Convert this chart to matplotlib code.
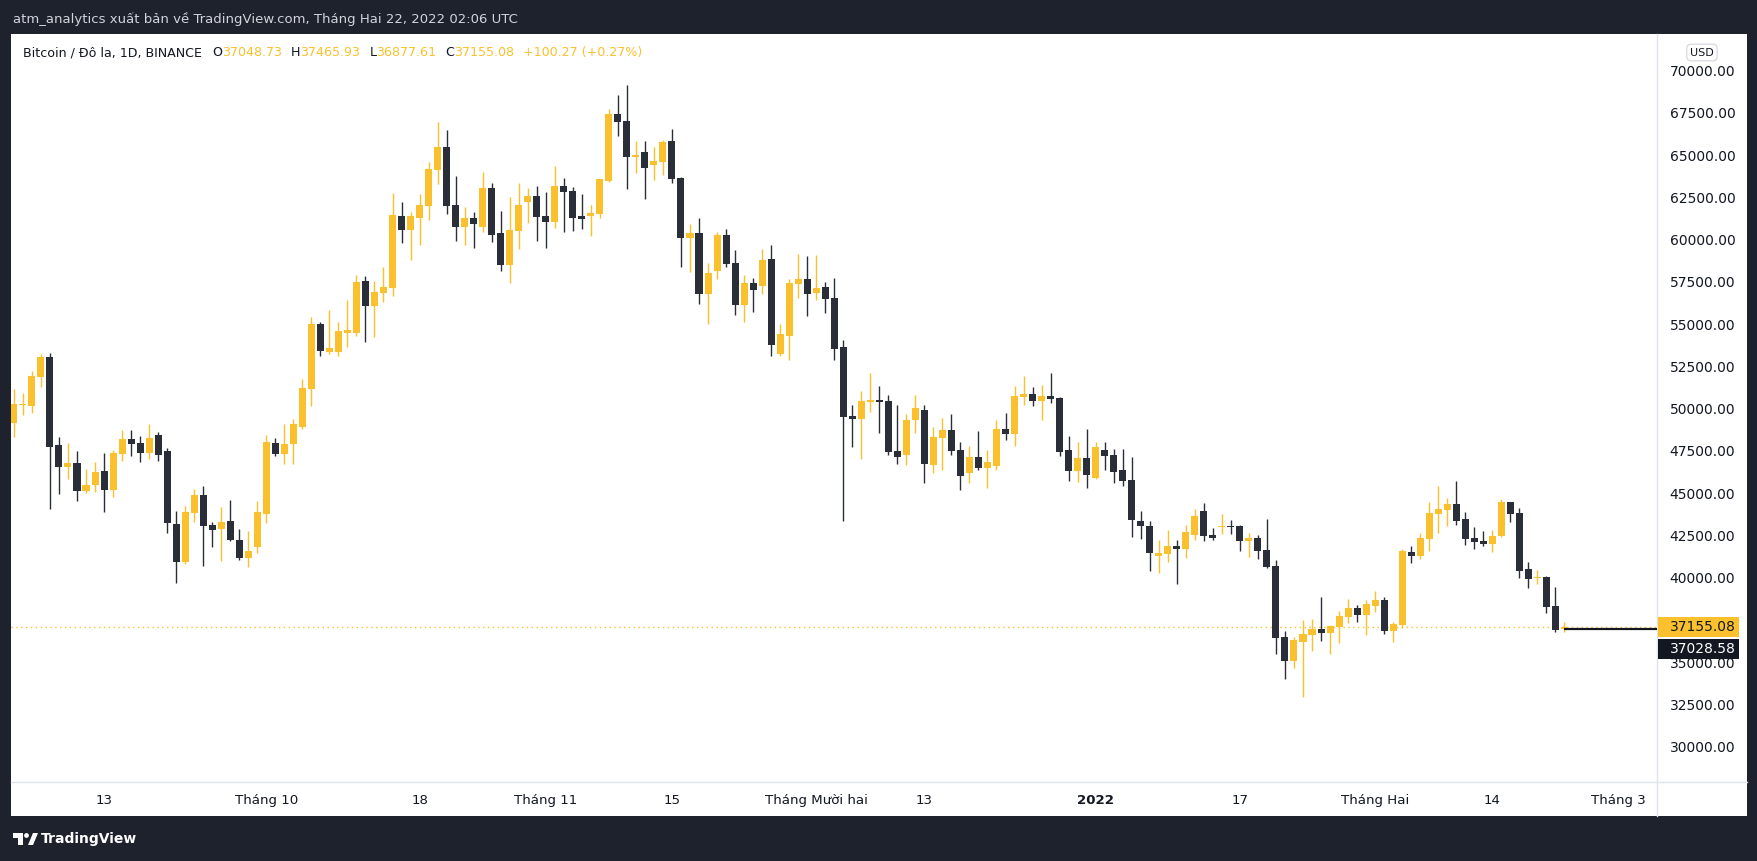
import numpy as np
import pandas as pd
import matplotlib
matplotlib.use("Agg")
import matplotlib.pyplot as plt
from matplotlib.patches import Rectangle, Circle, Polygon

W, H = 1758, 861

# Nến ngày BTC, 03/09/2021 -> 22/02/2022
dates = pd.date_range("2021-09-03", "2022-02-22", freq="D")

opens = [
    # Sep 3-30
    49261, 50330, 50247, 51982, 53146, 47940, 46658, 46875, 45238, 45593, 46401, 45297, 47427, 48294,
    48058, 47486, 48531, 47585, 43266, 41037, 43936, 44982, 43207, 42990, 43443, 42319, 41274, 41925,
    # Oct
    43877, 48058, 47427, 48018, 49024, 51272, 55100, 53450, 53462, 54590, 54586, 57643, 56183, 56952,
    57248, 61488, 60679, 61389, 62099, 64229, 65570, 62139, 60857, 61370, 60857, 63145, 60482, 58609,
    60620, 62316, 62670,
    # Nov
    61487, 61152, 63262, 62966, 61487, 61507, 61625, 63578, 67522, 67107, 65000, 65274, 64524, 64702,
    65924, 63735, 60206, 60482, 56893, 58253, 60363, 58707, 56242, 57524, 57366, 58943, 53343, 54408,
    57484, 57761,
    # Dec
    56952, 57287, 56636, 53737, 49655, 49497, 50503, 50602, 50543, 47585, 47368, 49438, 50010, 46776,
    48373, 48827, 47644, 46303, 47230, 46599, 46717, 48886, 48610, 50799, 50957, 50562, 50838, 50720,
    47644, 46421, 47170,
    # Jan
    46007, 47644, 47348, 46460, 45869, 43443, 43148, 41392, 41511, 41965, 41807, 42635, 44035, 42616,
    43100, 43150, 43148, 42280, 42438, 41728, 40782, 36582, 35181, 36305, 36720, 37055, 36838, 37173,
    37784, 38297, 37902,
    # Feb 1-22
    38435, 38770, 36956, 37311, 41610, 41393, 42399, 43878, 44114, 44450, 43562, 42438, 42261, 42103,
    42576, 44568, 43917, 40604, 40050, 40131, 38415, 37048.73,
]
highs = [
    51233, 51036, 52318, 53323, 53363, 48413, 48058, 47585, 46520, 46934, 47466, 47644, 48827, 48827,
    48472, 49182, 48709, 47762, 44035, 44331, 45336, 45514, 43384, 44272, 44686, 42970, 42852, 44627,
    48531, 48354, 49182, 49478, 51850, 55500, 55200, 55900, 55237, 56519, 57998, 57938, 57643, 58471,
    62849, 62316, 61725, 62790, 64682, 67049, 66576, 63854, 62020, 61725, 64091, 63440, 61784, 62612,
    63440, 63144, 63262,
    62907, 64445, 63735, 63203, 62789, 62138, 63676, 67818, 68646, 69237, 65924, 65924, 65569, 65983,
    66634, 63795, 61014, 61369, 58707, 60541, 60718, 59476, 57997, 57820, 59535, 59772, 55098, 57761,
    59239, 59121,
    59180, 57583, 57820, 54151, 50306, 51134, 52199, 51430, 50898, 50306, 49774, 50898, 50306, 49024,
    49557, 49793, 48137, 47900, 48788, 47663, 49438, 49852, 51430, 52021, 51371, 51489, 52199, 50779,
    48472, 48117, 48886,
    48117, 48117, 47703, 47703, 47230, 44035, 43443, 42319, 42911, 42320, 43207, 44154, 44509, 43030,
    43858, 43503, 43207, 42734, 42616, 43562, 41137, 36937, 36582, 37587, 37646, 38948, 37291, 38120,
    38829, 38474, 38770,
    39303, 38948, 37469, 41787, 41965, 42734, 44568, 45514, 44805, 45810, 43976, 43089, 42852, 42911,
    44745, 44568, 44213, 41018, 40545, 40190, 39539, 37465.93,
]
lows = [
    48433, 49714, 49852, 51391, 44173, 45060, 45948, 44646, 45120, 45179, 43996, 44883, 47013, 47289,
    46954, 47131, 47013, 42753, 39795, 40919, 43404, 40801, 41925, 41097, 42280, 41156, 40742, 41570,
    43345, 47309, 46835, 46835, 48906, 50267, 53200, 53300, 53225, 53758, 54408, 54054, 54349, 56420,
    56775, 59910, 58905, 59792, 61271, 63401, 61626, 60029, 59792, 59614, 60561, 59970, 58254, 57544,
    59555, 61093, 60028,
    59614, 60797, 60561, 60620, 60738, 60324, 61389, 63500, 66240, 63104, 64051, 62513, 63637, 63932,
    63459, 58490, 58194, 56301, 55118, 57780, 58490, 55650, 55236, 55828, 56893, 53225, 53225, 52988,
    56656, 55591,
    56538, 55769, 52988, 43463, 47841, 47131, 49911, 48669, 47368, 46835, 46776, 48669, 45711, 46303,
    46481, 47368, 45297, 45711, 46481, 45415, 46481, 48255, 47900, 50326, 50266, 49438, 50444, 47309,
    45829, 45770, 45415,
    45947, 46480, 45711, 45534, 42516, 42398, 40505, 40387, 41037, 39736, 41275, 42340, 42280, 42340,
    42694, 42694, 41689, 41334, 41216, 40683, 35595, 34116, 34767, 33052, 35773, 36364, 35595, 36246,
    37429, 37488, 36719,
    38080, 36779, 36305, 37133, 40979, 41216, 41689, 42754, 43168, 43227, 42044, 41807, 41985, 41630,
    42517, 43404, 40092, 39500, 39737, 38021, 36897, 36877.61,
]
closes = [
    50365, 50390, 52022, 53146, 47841, 46658, 46875, 45238, 45573, 46342, 45297, 47466, 48294, 48018,
    47486, 48354, 47368, 43305, 41037, 43976, 44982, 43167, 42931, 43384, 42339, 41274, 41668, 43976,
    48117, 47427, 47999, 49182, 51312, 55100, 53500, 53650, 54704, 54740, 57583, 56183, 56992, 57288,
    61547, 60679, 61488, 62139, 64268, 65570, 62099, 60857, 61370, 61034, 63145, 60384, 58609, 60659,
    62138, 62670, 61448,
    61152, 63262, 62927, 61389, 61330, 61665, 63676, 67522, 67068, 65003, 65100, 64347, 64741, 65865,
    63696, 60206, 60482, 56893, 58115, 60363, 58667, 56242, 57524, 57129, 58884, 53876, 54506, 57524,
    57761, 56893,
    57228, 56597, 53639, 49616, 49497, 50543, 50602, 50503, 47545, 47250, 49418, 50129, 46835, 48413,
    48827, 47604, 46125, 47230, 46599, 46934, 48886, 48610, 50838, 50957, 50562, 50838, 50681, 47545,
    46421, 47170, 46184,
    47821, 47308, 46362, 45829, 43522, 43167, 41570, 41550, 41964, 41807, 42793, 43740, 42576, 42458,
    43150, 43110, 42280, 42438, 41689, 40742, 36542, 35181, 36404, 36759, 37055, 36838, 37232, 37824,
    38297, 37902, 38534,
    38770, 36956, 37350, 41669, 41393, 42438, 43917, 44154, 44450, 43464, 42399, 42221, 42103, 42556,
    44568, 43878, 40506, 40032, 40110, 38376, 37015, 37155.08,
]

last_price = 37155.08
line_price = 37028.58
price_ticks = list(range(30000, 70001, 2500))

tick_dates = ["2021-09-13", "2021-10-01", "2021-10-18", "2021-11-01", "2021-11-15", "2021-12-01",
              "2021-12-13", "2022-01-01", "2022-01-17", "2022-02-01", "2022-02-14", "2022-02-28"]
tick_labels = ["13", "Tháng 10", "18", "Tháng 11", "15", "Tháng Mười hai",
               "13", "2022", "17", "Tháng Hai", "14", "Tháng 3"]

# ---------------------------------------------------------------
UP = "#FBC02D"
DOWN = "#2A2E39"
DARK_BG = "#1E222D"
TXT = "#131722"
SEP = "#E0E3EB"

t0 = pd.Timestamp("2021-09-01")
x = np.array((dates - t0).days, dtype=float)
o = np.array(opens, dtype=float)
h = np.array(highs, dtype=float)
l = np.array(lows, dtype=float)
c = np.array(closes, dtype=float)
cols = np.where(c >= o, UP, DOWN)

XLIM = (1.68, 184.27)
YLIM = (28062, 72253)

fig = plt.figure(figsize=(W / 100, H / 100), dpi=100, facecolor=DARK_BG)

# nền pixel (toàn bộ hình)
bg = fig.add_axes([0, 0, 1, 1], zorder=0)
bg.set_xlim(0, W)
bg.set_ylim(H, 0)
bg.axis("off")
bg.add_patch(Rectangle((11, 34), 1736, 782, facecolor="white", edgecolor="none"))
bg.plot([1657.5, 1657.5], [34, 816], color=SEP, lw=1)
bg.plot([11, 1747], [781.5, 781.5], color=SEP, lw=1)

# logo TradingView
bg.add_patch(Polygon([(13, 833), (23, 833), (23, 845), (18.5, 845), (18.5, 837.5), (13, 837.5)],
                     closed=True, facecolor="white", edgecolor="none"))
bg.add_patch(Circle((26.5, 835.5), 2.4, facecolor="white", edgecolor="none"))
bg.add_patch(Polygon([(28, 845), (33, 833), (38, 833), (33, 845)], closed=True,
                     facecolor="white", edgecolor="none"))
bg.text(41, 839, "TradingView", color="white", fontsize=10, fontweight="bold", va="center", ha="left")

# tiêu đề trên cùng
fig.text(13 / W, 1 - 19 / H, "atm_analytics xuất bản về TradingView.com, Tháng Hai 22, 2022 02:06 UTC",
         color="#D1D4DC", fontsize=9.5, va="center", ha="left")

# biểu đồ chính
ax = fig.add_axes([11 / W, 1 - 781 / H, 1646 / W, 747 / H], zorder=1)
ax.set_facecolor("none")
ax.set_xlim(*XLIM)
ax.set_ylim(*YLIM)
ax.set_xticks([])
ax.set_yticks([])
for s in ax.spines.values():
    s.set_visible(False)

ax.axhline(last_price, color=UP, lw=1, ls=(0, (1, 2.5)), zorder=1)
ax.vlines(x, l, h, colors=cols, lw=1, zorder=2)
body_lo = np.minimum(o, c)
body_h = np.maximum(np.abs(c - o), 60)
ax.bar(x, body_h, bottom=body_lo, width=0.78, color=cols, linewidth=0, zorder=3)
ax.plot([x[-1], XLIM[1]], [line_price, line_price], color=TXT, lw=1.6, zorder=4,
        solid_capstyle="butt")

# thang giá bên phải
axp = fig.add_axes([1658 / W, 1 - 781 / H, 89 / W, 747 / H], zorder=2)
axp.set_facecolor("none")
axp.set_xlim(0, 1)
axp.set_ylim(*YLIM)
axp.axis("off")
px = (YLIM[1] - YLIM[0]) / 747.0
box_h = 20 * px
y_lab2 = last_price - 21.3 * px
for p in price_ticks:
    # các nhãn bị hộp giá che gần hết thì không vẽ
    if abs(p - last_price) < 14 * px or abs(p - y_lab2) < 14 * px:
        continue
    axp.text(0.5, p, f"{p:.2f}", ha="center", va="center", fontsize=10, color=TXT)

axp.add_patch(Rectangle((0, last_price - box_h / 2), 0.91, box_h, facecolor=UP, edgecolor="none", zorder=5))
axp.text(0.5, last_price, f"{last_price:.2f}", ha="center", va="center", fontsize=10, color=TXT, zorder=6)
axp.add_patch(Rectangle((0, y_lab2 - box_h / 2), 0.91, box_h, facecolor=TXT, edgecolor="none", zorder=5))
axp.text(0.5, y_lab2, f"{line_price:.2f}", ha="center", va="center", fontsize=10, color="white", zorder=6)

fig.text(1702 / W, 1 - 52.5 / H, "USD", ha="center", va="center", fontsize=8, color=TXT,
         bbox=dict(boxstyle="round,pad=0.3,rounding_size=0.4", fc="white", ec="#D1D4DC", lw=0.8))

# trục thời gian
axt = fig.add_axes([11 / W, 1 - 816 / H, 1646 / W, 35 / H], zorder=2)
axt.set_facecolor("none")
axt.set_xlim(*XLIM)
axt.set_ylim(0, 1)
axt.axis("off")
for d, lab in zip(tick_dates, tick_labels):
    xi = (pd.Timestamp(d) - t0).days
    axt.text(xi, 0.45, lab, ha="center", va="center", fontsize=9.6, color=TXT,
             fontweight="bold" if lab == "2022" else "normal")

# dòng chú thích OHLC
renderer = fig.canvas.get_renderer()
pieces = [
    ("Bitcoin / Đô la, 1D, BINANCE", TXT, 10),
    ("O", TXT, 0), (f"{opens[-1]:.2f}", UP, 9),
    ("H", TXT, 0), (f"{highs[-1]:.2f}", UP, 9),
    ("L", TXT, 0), (f"{lows[-1]:.2f}", UP, 9),
    ("C", TXT, 0), (f"{closes[-1]:.2f}", UP, 9),
    ("+100.27 (+0.27%)", UP, 0),
]
xpos = 23
for txt, col, gap in pieces:
    t = fig.text(xpos / W, 1 - 52.5 / H, txt, color=col, fontsize=9.1, va="center", ha="left")
    xpos += t.get_window_extent(renderer).width + gap

fig.savefig("out.png", dpi=100, facecolor=fig.get_facecolor())
